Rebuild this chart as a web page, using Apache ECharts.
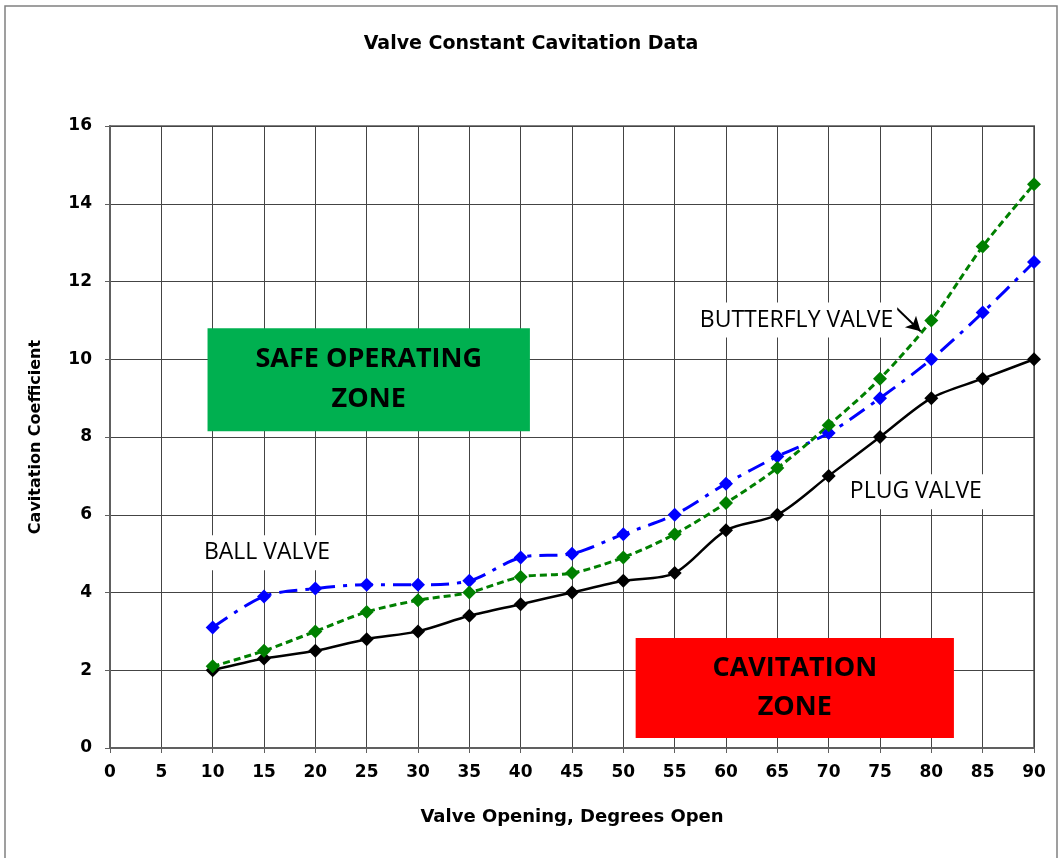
<!DOCTYPE html>
<html><head><meta charset="utf-8">
<script src="https://cdn.jsdelivr.net/npm/echarts@6/dist/echarts.min.js"></script>
<style>html,body{margin:0;padding:0;background:#fff}#c{width:1062px;height:858px}</style>
</head><body><div id="c"></div>
<script>
const xCategories = [10,15,20,25,30,35,40,45,50,55,60,65,70,75,80,85,90];
const plugValve = [2.0,2.3,2.5,2.8,3.0,3.4,3.7,4.0,4.3,4.5,5.6,6.0,7.0,8.0,9.0,9.5,10.0];
const butterflyValve = [2.1,2.5,3.0,3.5,3.8,4.0,4.4,4.5,4.9,5.5,6.3,7.2,8.3,9.5,11.0,12.9,14.5];
const ballValve = [3.1,3.9,4.1,4.2,4.2,4.3,4.9,5.0,5.5,6.0,6.8,7.5,8.1,9.0,10.0,11.2,12.5];
const safeZone = {x:[9.5,40.9], y:[8.15,10.8], text:'SAFE OPERATING\nZONE'};
const cavZone = {x:[51.2,82.2], y:[0.26,2.83], text:'CAVITATION\nZONE'};
const labels = [
  {name:'BALL VALVE', x:8.76, y:5.02},
  {name:'BUTTERFLY VALVE', x:57.06, y:11.01},
  {name:'PLUG VALVE', x:71.67, y:6.59}
];
const arrow = [[76.2,11.42],[78.95,10.72]];

const pair = (xs, ys) => xs.map((x,i)=>[x, ys[i]]);
const font = 'DejaVu Sans, Liberation Sans, Arial, sans-serif';
const annFont = 'Open Sans, Noto Sans, sans-serif';

const chart = echarts.init(document.getElementById('c'));
chart.setOption({
  animation:false,
  backgroundColor:'#fff',
  title:{text:'Valve Constant Cavitation Data', left:'center', top:30,
    textStyle:{fontFamily:font, fontWeight:'bold', fontSize:19, color:'#000'}},
  grid:{left:110, right:28, top:126, bottom:110, show:true, borderColor:'#808080', borderWidth:2},
  graphic:[{type:'rect', shape:{x:5,y:6,width:1052,height:860}, style:{fill:null, stroke:'#808080', lineWidth:1.5}, silent:true}],
  xAxis:{type:'value', min:0, max:90, interval:5,
    name:'Valve Opening, Degrees Open', nameLocation:'middle', nameGap:60,
    nameTextStyle:{fontFamily:font, fontWeight:'bold', fontSize:18, color:'#000'},
    axisLine:{show:true, lineStyle:{color:'#606060', width:2}},
    axisTick:{show:true, length:5, lineStyle:{color:'#606060'}},
    axisLabel:{fontFamily:font, fontWeight:'bold', fontSize:17, color:'#000', margin:16},
    splitLine:{show:true, lineStyle:{color:'#444', width:1}}},
  yAxis:{type:'value', min:0, max:16, interval:2,
    name:'Cavitation Coefficient', nameLocation:'middle', nameGap:66,
    nameTextStyle:{fontFamily:font, fontWeight:'bold', fontSize:16, color:'#000'},
    axisLine:{show:true, lineStyle:{color:'#606060', width:2}},
    axisTick:{show:true, length:5, lineStyle:{color:'#606060'}},
    axisLabel:{fontFamily:font, fontWeight:'bold', fontSize:17, color:'#000', margin:18},
    splitLine:{show:true, lineStyle:{color:'#444', width:1}}},
  series:[
    {name:'zones', type:'line', data:[], silent:true,
      markArea:{silent:true, data:[
        [{coord:[safeZone.x[0],safeZone.y[1]], itemStyle:{color:'#00B050'},
          label:{show:true, position:'inside', formatter:safeZone.text, fontFamily:annFont, fontWeight:'bold', fontSize:27, lineHeight:40, color:'#000'}},
         {coord:[safeZone.x[1],safeZone.y[0]]}],
        [{coord:[cavZone.x[0],cavZone.y[1]], itemStyle:{color:'#FF0000'},
          label:{show:true, position:'inside', formatter:cavZone.text, fontFamily:annFont, fontWeight:'bold', fontSize:27, lineHeight:39, color:'#000'}},
         {coord:[cavZone.x[1],cavZone.y[0]]}]
      ]},
      markPoint:{silent:true, symbol:'rect', symbolSize:0,
        data:labels.map(l=>({coord:[l.x,l.y], value:l.name,
          label:{show:true, position:'right', distance:0, formatter:l.name, fontFamily:annFont, fontSize:23, color:'#000', backgroundColor:'#fff', padding:[6,4]}}))},
      markLine:{silent:true, symbol:['none','arrow'], symbolSize:[12,14],
        lineStyle:{color:'#000', width:2, type:'solid'}, label:{show:false},
        data:[[{coord:arrow[0]},{coord:arrow[1]}]]}
    },
    {name:'Plug Valve', type:'line', smooth:0.3, data:pair(xCategories, plugValve),
      symbol:'diamond', symbolSize:14, itemStyle:{color:'#000'}, lineStyle:{color:'#000', width:2.5}},
    {name:'Ball Valve', type:'line', smooth:0.3, data:pair(xCategories, ballValve),
      symbol:'diamond', symbolSize:14, itemStyle:{color:'#0000FF'}, lineStyle:{color:'#0000FF', width:3, type:[18,8,4,8]}},
    {name:'Butterfly Valve', type:'line', smooth:0.3, data:pair(xCategories, butterflyValve),
      symbol:'diamond', symbolSize:14, itemStyle:{color:'#008000'}, lineStyle:{color:'#008000', width:3, type:[7,4]}}
  ]
});
</script></body></html>
